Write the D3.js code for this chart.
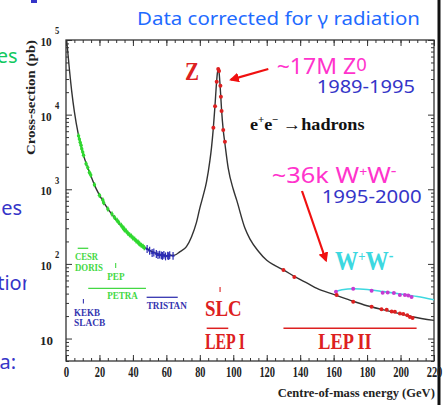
<!DOCTYPE html>
<html>
<head>
<meta charset="utf-8">
<script src="https://cdn.jsdelivr.net/npm/d3@7"></script>
<style>
body { margin: 0; background: #fff; }
svg { display: block; }
</style>
</head>
<body>
<div id="chart"></div>
<script>
// e+e- -> hadrons, Born-level curve (GeV, pb)
const curveE = [0.4, 3.4, 5, 7.4, 10, 14, 18, 22, 26, 30, 35, 40, 45, 50, 55, 60, 65, 68, 72, 75, 78, 80, 82, 84, 86, 87, 88, 89, 90, 90.5, 91, 91.5, 92, 92.5, 93, 94, 95, 97, 100, 102, 107, 110, 115, 120, 125, 130, 137, 145, 150, 160, 170, 180, 190, 200, 207, 220];
const curveS = [100000, 20700, 11000, 5400, 3100, 1700, 1020, 700, 510, 390, 290, 225, 180, 152, 136, 129, 131, 145, 170, 230, 360, 560, 820, 1260, 2400, 3650, 6300, 12500, 27000, 36000, 41000, 37000, 27000, 18000, 11600, 6200, 4100, 1900, 1000, 720, 300, 215, 148, 112, 95, 83, 67, 54, 47, 39, 32.5, 27.5, 24.2, 21.4, 19.6, 17.5];

// W+W- curve and points
const wwCurveE = [160.6, 165, 172, 180, 190, 200, 210, 220];
const wwCurveS = [42, 45, 46.5, 45.5, 42.5, 39.5, 36.5, 33];
const wwE = [161.4, 171.7, 182.7, 189.3, 192.3, 196, 199.6, 202.6, 204.6, 206.6];
const wwS = [42.3, 46.4, 43.6, 41.0, 41.5, 40.6, 38.2, 38.2, 37.6, 35.9];

// low energy data (PEP, PETRA, CESR, DORIS ...)
const greenE = [7.5, 8, 8.5, 9, 9.4, 10, 10.5, 12, 13, 14, 14.8, 17, 20, 22, 22.5, 25, 27.5, 29, 30.5, 31.5, 33, 34, 34.5, 35, 36, 37, 38, 39, 40, 41, 42, 43, 43.5, 44, 45, 46, 46.8];
const greenS = [5200, 4700, 4250, 3900, 3500, 3150, 2850, 2200, 1950, 1680, 1550, 1150, 830, 720, 660, 545, 465, 420, 385, 360, 330, 305, 300, 285, 275, 258, 245, 237, 222, 215, 203, 196, 190, 185, 178, 172, 165];

// TRISTAN
const blueE = [48.5, 50, 51.5, 52.5, 54, 55, 56, 57, 57.7, 58.5, 59.5, 60.8, 61.4, 62, 64];
const blueS = [158, 150, 140, 142, 136, 131, 133, 130, 128, 132, 126, 129, 127, 131, 128];

// LEP I and LEP II
const lep1E = [88.1, 89.1, 90.1, 91.0, 91.5, 92.3, 92.6, 93.0, 94.0, 95.0];
const lep1S = [6670, 13000, 27600, 40900, 38400, 24400, 17400, 11200, 6220, 4340];
const lep2E = [130, 136.5, 161.8, 171.7, 182.7, 188.6, 191.7, 194.7, 196.6, 199.6, 201.6, 204.0, 205.6, 207.2];
const lep2S = [83, 67, 38.2, 31, 26.6, 24.6, 24.3, 23.1, 22.8, 21.7, 21.3, 20.5, 19.5, 18.9];

// machine energy ranges and single points
const rangeNames = ["CESR", "PETRA", "TRISTAN", "LEP I", "LEP II"];
const rangeLo = [7, 13.3, 48.2, 84.1, 130];
const rangeHi = [13.3, 47.8, 66.8, 97, 209.6];
const pointNames = ["PEP", "KEKB", "SLC"];
const pointE = [29.7, 10.4, 92.1];

const xTicks = [0, 20, 40, 60, 80, 100, 120, 140, 160, 180, 200, 220];
const yDecades = [10, 100, 1000, 10000, 100000];
const yExps = ["", "2", "3", "4", "5"];

const W = 443, H = 405;
const serif = "'Liberation Serif', 'Times New Roman', serif";
const slide = "'Noto Sans', 'DejaVu Sans', sans-serif";
const red = "#dd2020", magenta = "#ff33cc", blueTxt = "#3535c8";

const svg = d3.select("#chart").append("svg")
    .attr("width", W)
    .attr("height", H)
    .style("background", "#fff");

const x = d3.scaleLinear().domain([0, 220]).range([66, 434]);
const y = d3.scaleLog().domain([5, 1e5]).range([361, 40]);

// squeeze a text horizontally so it sits between left and right
function fit(t, left, right) {
    const b = t.node().getBBox();
    t.attr("transform", `translate(${left},0) scale(${(right - left) / b.width},1) translate(${-b.x},0)`);
    return t;
}

function label(parts, o) {
    const t = svg.append("text")
        .attr("x", 0).attr("y", o.base)
        .attr("font-family", o.font)
        .attr("font-size", o.size)
        .attr("font-weight", o.weight || "normal")
        .attr("fill", o.fill);
    let cur = 0;
    parts.forEach(function (p) {
        if (typeof p === "string") p = { t: p };
        const target = p.rise ? -p.rise : 0;
        const sp = t.append("tspan").attr("dy", target - cur).text(p.t);
        if (p.scale) sp.attr("font-size", o.size * p.scale);
        cur = target;
    });
    return fit(t, o.left, o.right);
}

// ---- slide text peeking out on the left ----
svg.append("rect").attr("x", 31).attr("y", 0).attr("width", 6).attr("height", 3).attr("fill", blueTxt);
svg.append("defs").append("clipPath").attr("id", "leftclip")
    .append("rect").attr("x", 0).attr("y", 0).attr("width", 26.5).attr("height", H);
svg.append("text").attr("x", 17.5).attr("y", 63).attr("text-anchor", "end")
    .attr("font-family", slide).attr("font-size", 20).attr("fill", "#10c860").text("es");
svg.append("text").attr("x", 22).attr("y", 215).attr("text-anchor", "end")
    .attr("font-family", slide).attr("font-size", 20).attr("fill", blueTxt).text("ies");
svg.append("text").attr("x", 34).attr("y", 290).attr("text-anchor", "end").attr("clip-path", "url(#leftclip)")
    .attr("font-family", slide).attr("font-size", 20).attr("fill", blueTxt).text("tion");
svg.append("text").attr("x", 16).attr("y", 369).attr("text-anchor", "end")
    .attr("font-family", slide).attr("font-size", 20).attr("fill", blueTxt).text("a:");

// black border on the right of the picture
svg.append("rect").attr("x", 437.5).attr("y", 0).attr("width", 3).attr("height", H).attr("fill", "#111");

// ---- axes ----
const xMinor = d3.range(0, 221, 5);
const yMinor = [];
[1, 10, 100, 1000, 10000].forEach(function (d) {
    d3.range(2, 10).forEach(function (k) { if (d * k >= 5) yMinor.push(d * k); });
});

function axis(gen, tx, ty) {
    svg.append("g")
        .attr("transform", `translate(${tx},${ty})`)
        .attr("color", "#333")
        .call(gen)
        .call(g => g.select(".domain").remove());
}
axis(d3.axisBottom(x).tickValues(xMinor).tickSizeInner(-3).tickSizeOuter(0).tickFormat(""), 0, 361);
axis(d3.axisTop(x).tickValues(xMinor).tickSizeInner(-3).tickSizeOuter(0).tickFormat(""), 0, 40);
axis(d3.axisTop(x).tickValues(xTicks).tickSizeInner(-6).tickSizeOuter(0).tickFormat(""), 0, 40);
axis(d3.axisLeft(y).tickValues(yMinor).tickSizeInner(-3).tickSizeOuter(0).tickFormat(""), 66, 0);
axis(d3.axisLeft(y).tickValues(yDecades).tickSizeInner(-6).tickSizeOuter(0).tickFormat(""), 66, 0);
axis(d3.axisRight(y).tickValues(yMinor).tickSizeInner(-3).tickSizeOuter(0).tickFormat(""), 434, 0);
axis(d3.axisRight(y).tickValues(yDecades).tickSizeInner(-6).tickSizeOuter(0).tickFormat(""), 434, 0);

const xAxis = svg.append("g")
    .attr("transform", "translate(0,361)")
    .attr("color", "#333")
    .call(d3.axisBottom(x).tickValues(xTicks).tickSizeInner(-6).tickSizeOuter(0).tickPadding(5.4));
xAxis.select(".domain").remove();
xAxis.selectAll("text")
    .attr("font-family", serif)
    .attr("font-weight", "bold")
    .attr("font-size", 14.5)
    .attr("fill", "#222")
    .attr("textLength", d => String(d).length * 5.4 - (String(d).length === 1 ? 0 : 0.5))
    .attr("lengthAdjust", "spacingAndGlyphs");

svg.append("rect")
    .attr("x", 66).attr("y", 40)
    .attr("width", 434 - 66).attr("height", 361 - 40)
    .attr("fill", "none").attr("stroke", "#333").attr("stroke-width", 1.3);

// y tick labels: 10, 10^2 ... 10^5
yDecades.forEach(function (d, i) {
    const yy = y(d);
    svg.append("text").attr("x", 0).attr("y", yy + 6)
        .attr("font-family", serif).attr("font-weight", "bold").attr("font-size", 13)
        .attr("fill", "#222").text("10")
        .call(t => fit(t, i === 0 ? 40 : 40.5, i === 0 ? 53 : 51.7));
    if (yExps[i]) {
        svg.append("text").attr("x", 0).attr("y", yy - 5.5)
            .attr("font-family", serif).attr("font-weight", "bold").attr("font-size", 9.5)
            .attr("fill", "#222").text(yExps[i])
            .call(t => fit(t, 55, 59.5));
    }
});

svg.append("text")
    .attr("transform", "translate(35,155) rotate(-90)")
    .attr("font-family", serif).attr("font-weight", "bold").attr("font-size", 12.5)
    .attr("fill", "#222")
    .attr("textLength", 115).attr("lengthAdjust", "spacingAndGlyphs")
    .text("Cross-section (pb)");

label(["Centre-of-mass energy (GeV)"], { font: serif, weight: "bold", size: 13, fill: "#222", left: 277.7, right: 435, base: 397 });

// ---- curves and data ----
const clip = svg.append("defs").append("clipPath").attr("id", "plotclip");
clip.append("rect").attr("x", 66).attr("y", 40).attr("width", 368).attr("height", 321);

const plot = svg.append("g").attr("clip-path", "url(#plotclip)");
const line = d3.line().x(d => x(d[0])).y(d => y(d[1])).curve(d3.curveMonotoneX);

plot.append("path")
    .datum(curveE.map((e, i) => [e, curveS[i]]))
    .attr("d", line)
    .attr("fill", "none").attr("stroke", "#333").attr("stroke-width", 1.4);

plot.append("path")
    .datum(wwCurveE.map((e, i) => [e, wwCurveS[i]]))
    .attr("d", line)
    .attr("fill", "none").attr("stroke", "#3dd8e0").attr("stroke-width", 1.6);

const green = greenE.map((e, i) => [e, greenS[i]]);
plot.selectAll(".gerr").data(green).enter().append("line")
    .attr("x1", d => x(d[0])).attr("x2", d => x(d[0]))
    .attr("y1", d => y(d[1] * 1.08)).attr("y2", d => y(d[1] / 1.08))
    .attr("stroke", "#2fd82f").attr("stroke-width", 1.4);
plot.selectAll(".gpt").data(green).enter().append("circle")
    .attr("cx", d => x(d[0])).attr("cy", d => y(d[1])).attr("r", 1.7)
    .attr("fill", "#2fd82f");

const blue = blueE.map((e, i) => [e, blueS[i]]);
plot.selectAll(".berr").data(blue).enter().append("line")
    .attr("x1", d => x(d[0])).attr("x2", d => x(d[0]))
    .attr("y1", d => y(d[1] * 1.13)).attr("y2", d => y(d[1] / 1.13))
    .attr("stroke", "#2a2ab4").attr("stroke-width", 1.2);
plot.selectAll(".bpt").data(blue).enter().append("line")
    .attr("x1", d => x(d[0]) - 1.5).attr("x2", d => x(d[0]) + 1.5)
    .attr("y1", d => y(d[1])).attr("y2", d => y(d[1]))
    .attr("stroke", "#2a2ab4").attr("stroke-width", 1.6);

plot.selectAll(".ww").data(wwE.map((e, i) => [e, wwS[i]])).enter().append("circle")
    .attr("cx", d => x(d[0])).attr("cy", d => y(d[1])).attr("r", 2)
    .attr("fill", "#c63ad0");

plot.selectAll(".lep").data(lep1E.map((e, i) => [e, lep1S[i]]).concat(lep2E.map((e, i) => [e, lep2S[i]])))
    .enter().append("circle")
    .attr("cx", d => x(d[0])).attr("cy", d => y(d[1])).attr("r", 2)
    .attr("fill", red);

// ---- machine labels ----
const rangeY = [248.3, 288.3, 297.3, 328.3, 328.3];
const rangeCol = ["#44d844", "#44d844", "#3535b0", red, red];
rangeNames.forEach(function (n, i) {
    svg.append("line")
        .attr("x1", x(rangeLo[i])).attr("x2", x(rangeHi[i]))
        .attr("y1", rangeY[i]).attr("y2", rangeY[i])
        .attr("stroke", rangeCol[i]).attr("stroke-width", n.startsWith("LEP") ? 1.5 : 1.3);
});
const pointY = [[263, 268], [299, 303.5], [287, 292]];
const pointCol = ["#44d844", "#3535b0", red];
pointNames.forEach(function (n, i) {
    svg.append("line")
        .attr("x1", x(pointE[i])).attr("x2", x(pointE[i]))
        .attr("y1", pointY[i][0]).attr("y2", pointY[i][1])
        .attr("stroke", pointCol[i]).attr("stroke-width", 1.1);
});

const small = { font: serif, weight: "bold", size: 10.5 };
label(["CESR"], Object.assign({}, small, { fill: "#44d844", left: 75, right: 98.3, base: 260 }));
label(["DORIS"], Object.assign({}, small, { fill: "#44d844", left: 75, right: 103, base: 271 }));
label(["PEP"], Object.assign({}, small, { fill: "#44d844", left: 107.3, right: 125, base: 280 }));
label(["PETRA"], Object.assign({}, small, { fill: "#44d844", left: 107.3, right: 138.3, base: 299 }));
label(["TRISTAN"], Object.assign({}, small, { fill: "#3535b0", left: 146.7, right: 187.3, base: 309.3 }));
label(["KEKB"], Object.assign({}, small, { fill: "#3535b0", left: 74, right: 100, base: 316 }));
label(["SLACB"], Object.assign({}, small, { fill: "#3535b0", left: 74, right: 105.3, base: 325.7 }));

const big = { font: serif, weight: "bold", size: 24, fill: red };
label(["SLC"], Object.assign({}, big, { left: 205, right: 241.7, base: 316.5 }));
label(["LEP I"], Object.assign({}, big, { left: 205, right: 245, base: 349.5 }));
label(["LEP II"], Object.assign({}, big, { left: 318.3, right: 371.7, base: 349.5 }));
label(["Z"], Object.assign({}, big, { size: 25, left: 185, right: 199, base: 80 }));

label(["W", { t: "+", rise: 9, scale: 0.55 }, "W", { t: "-", rise: 9, scale: 0.6 }],
    { font: serif, weight: "bold", size: 27, fill: "#3dd8e0", left: 335, right: 393.3, base: 270.5 });

label(["e", { t: "+", rise: 7, scale: 0.6 }, "e", { t: "\u2212", rise: 7, scale: 0.6 }, " \u2192hadrons"],
    { font: serif, weight: "bold", size: 17, fill: "#111", left: 250, right: 365, base: 130 });

// ---- slide annotations ----
label(["Data corrected for \u03b3 radiation"], { font: slide, size: 18.5, fill: "#1f6bff", left: 137, right: 420, base: 25 });
label(["~17M Z", { t: "0", rise: 2.5, scale: 0.8 }], { font: slide, size: 22, fill: magenta, left: 276.7, right: 366.7, base: 74 });
label(["1989-1995"], { font: slide, size: 18, fill: blueTxt, left: 316.7, right: 415, base: 92.7 });
label(["~36k W", { t: "+", rise: 7, scale: 0.55 }, "W", { t: "-", rise: 7, scale: 0.7 }],
    { font: slide, size: 22, fill: magenta, left: 271.7, right: 396.7, base: 182.7 });
label(["1995-2000"], { font: slide, size: 18, fill: blueTxt, left: 321.7, right: 421.7, base: 203 });

// red arrows
const defs = svg.append("defs");
defs.append("marker")
    .attr("id", "head").attr("viewBox", "0 0 10 10")
    .attr("refX", 8).attr("refY", 5)
    .attr("markerWidth", 4.5).attr("markerHeight", 4.5)
    .attr("orient", "auto")
    .append("path").attr("d", "M0,0 L10,5 L0,10 Z").attr("fill", "#f01010");
svg.append("line")
    .attr("x1", 268.3).attr("y1", 69).attr("x2", 231).attr("y2", 79.6)
    .attr("stroke", "#f01010").attr("stroke-width", 2.2).attr("marker-end", "url(#head)");
svg.append("line")
    .attr("x1", 302).attr("y1", 191).attr("x2", 326).attr("y2", 260.5)
    .attr("stroke", "#f01010").attr("stroke-width", 2.2).attr("marker-end", "url(#head)");
</script>
</body>
</html>
